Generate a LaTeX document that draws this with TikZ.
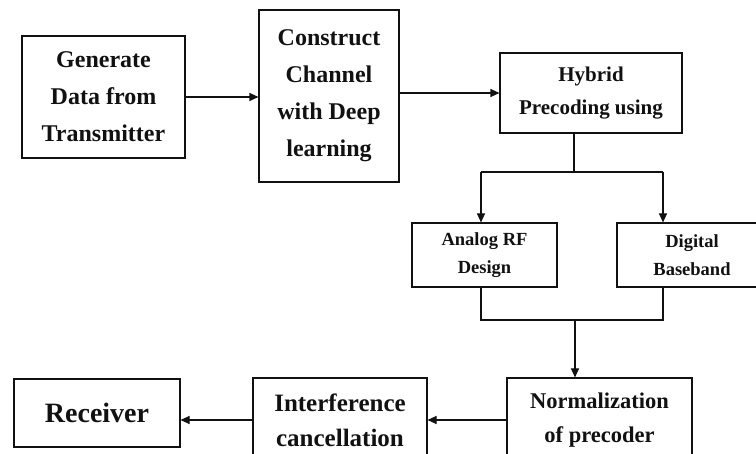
\documentclass[tikz,border=0pt]{standalone}
\usepackage{fontspec}
\setmainfont{Liberation Serif}
\usetikzlibrary{arrows.meta,positioning,calc}
\definecolor{ink}{HTML}{111111}
\newcommand{\PicW}{756}
\newcommand{\PicH}{454}
\newcommand{\LineW}{1.1pt}
\newcommand{\TxtBig}{\fontsize{24}{37}\selectfont}
\newcommand{\TxtMid}{\fontsize{21}{33}\selectfont}
\newcommand{\TxtSmall}{\fontsize{18.5}{28}\selectfont}

\begin{document}
\begin{tikzpicture}[x=1pt, y=-1pt, ink,
  block/.style={draw=ink, line width=\LineW, align=center, inner sep=0pt, font=\bfseries},
  flow/.style={draw=ink, line width=\LineW, -{Triangle[length=9pt, width=8pt]}},
  wire/.style={draw=ink, line width=\LineW}]

\useasboundingbox (0,0) rectangle (\PicW,\PicH);
\clip (0,0) rectangle (\PicW,\PicH);

% --- Top row: transmitter side ---------------------------------------------------
\node[block, minimum width=163pt, minimum height=122pt, font=\bfseries\TxtBig] (gen) at (103.5,97) {Generate\\Data from\\Transmitter};
\node[block, minimum width=140pt, minimum height=172pt, font=\bfseries\TxtBig] (con) at (329,96) {Construct\\Channel\\with Deep\\learning};
\node[block, minimum width=182pt, minimum height=80pt, font=\bfseries\TxtMid] (hyb) at (591,93) {Hybrid\\Precoding using};

% --- Middle row: the two precoders --------------------------------------------------
\node[block, minimum width=145pt, minimum height=64pt, font=\bfseries\TxtSmall] (ana) at (484.5,255) {Analog RF\\Design};
\node[block, minimum width=150pt, minimum height=64pt, font=\bfseries\TxtSmall] (dig) at (692,255) {Digital\\Baseband};

% --- Bottom row: receiver side (runs off the page) -----------------------------------
\node[block, minimum width=185pt, minimum height=84pt, font=\bfseries\fontsize{22.5}{34}\selectfont] (nor) at (599.5,420) {Normalization\\of precoder};
\node[block, minimum width=174pt, minimum height=84pt, font=\bfseries\fontsize{25}{35}\selectfont] (int) at (340,420) {Interference\\cancellation};
\node[block, minimum width=166pt, minimum height=68pt, font=\bfseries\fontsize{28}{32}\selectfont] (rec) at (97,413) {Receiver};

% --- Forks and joins -----------------------------------------------------------------
\coordinate (fork) at (574,172);
\coordinate (tapA) at (481,172);
\coordinate (tapD) at (663,172);
\coordinate (join) at (575,320);

% --- Connectors ------------------------------------------------------------------------
\draw[flow] (gen.east) -- (gen.east -| con.west);
\draw[flow] (con.east |- hyb.west) -- (hyb.west);
\draw[wire] (fork |- hyb.south) -- (fork);
\draw[wire] (tapA) -- (tapD);
\draw[flow] (tapA) -- (tapA |- ana.north);
\draw[flow] (tapD) -- (tapD |- dig.north);
\draw[wire] (tapA |- ana.south) -- (tapA |- join) -- (tapD |- join) -- (tapD |- dig.south);
\draw[flow] (join) -- (join |- nor.north);
\draw[flow] (nor.west) -- (int.east);
\draw[flow] (int.west) -- (int.west -| rec.east);

\end{tikzpicture}
\end{document}
